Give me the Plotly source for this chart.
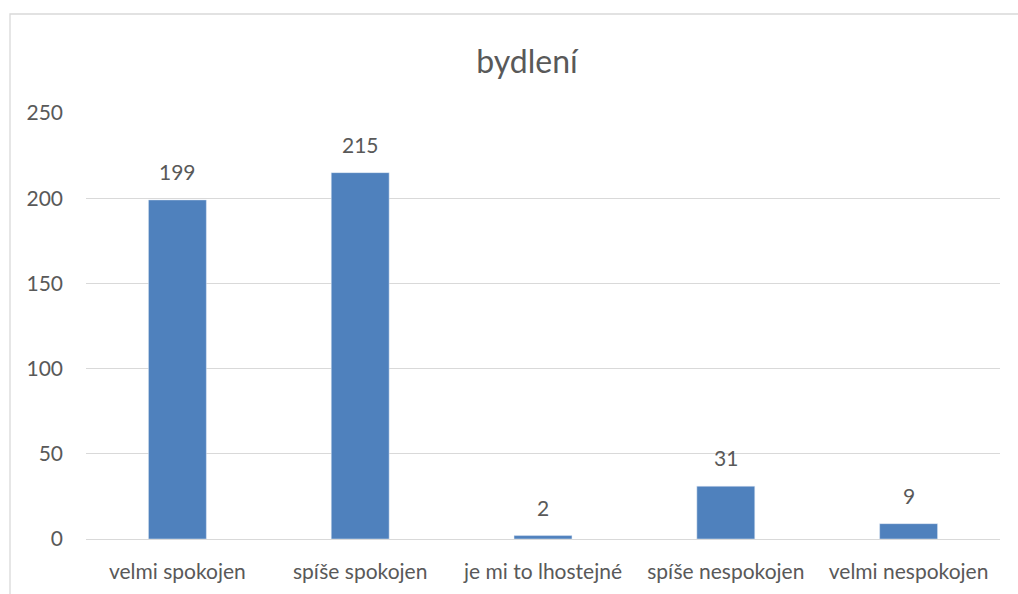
import plotly.graph_objects as go

categories = ["velmi spokojen", "spíše spokojen", "je mi to lhostejné", "spíše nespokojen", "velmi nespokojen"]
values = [199, 215, 2, 31, 9]
y_ticks = [0, 50, 100, 150, 200, 250]

W, H = 1018, 594
L, R, T, B = 86, 18, 113, 55
FONT = "Lato"
TXT = "#595959"
FS = 21

fig = go.Figure(go.Bar(x=categories, y=values, marker_color="#4F81BD", width=0.317,
                       hoverinfo="x+y"))

for c, v in zip(categories, values):
    fig.add_annotation(x=c, y=v, text=str(v), showarrow=False, yanchor="bottom", yshift=14,
                       font=dict(family=FONT, size=FS, color=TXT))

# chart area border
fig.add_shape(type="rect", xref="paper", yref="paper",
              x0=(10 - L) / (W - L - R), x1=(1040 - L) / (W - L - R),
              y0=-0.5, y1=(H - 14 - B) / (H - T - B),
              line=dict(color="#D9D9D9", width=1.3), fillcolor="rgba(0,0,0,0)", layer="below")

fig.update_layout(
    width=W, height=H,
    margin=dict(l=L, r=R, t=T, b=B),
    paper_bgcolor="white", plot_bgcolor="white",
    title=dict(text="bydlení", x=527 / W, xanchor="center", y=1 - 62 / H, yanchor="middle",
               font=dict(family=FONT, size=32, color=TXT)),
    showlegend=False,
    bargap=0.683,
    xaxis=dict(showline=True, linecolor="#D9D9D9", linewidth=1.3, ticks="", showgrid=False,
               tickfont=dict(family=FONT, size=FS, color=TXT), ticklabelstandoff=14),
    yaxis=dict(range=[0, 250], tickvals=y_ticks, showgrid=True, gridcolor="#D9D9D9", gridwidth=1.3,
               zeroline=False, ticks="", showline=False,
               tickfont=dict(family=FONT, size=FS, color=TXT), ticklabelstandoff=22),
)

fig.write_html("out.html", config={"displayModeBar": False},
               post_script="document.body.style.margin='0';document.body.style.overflow='hidden';")
